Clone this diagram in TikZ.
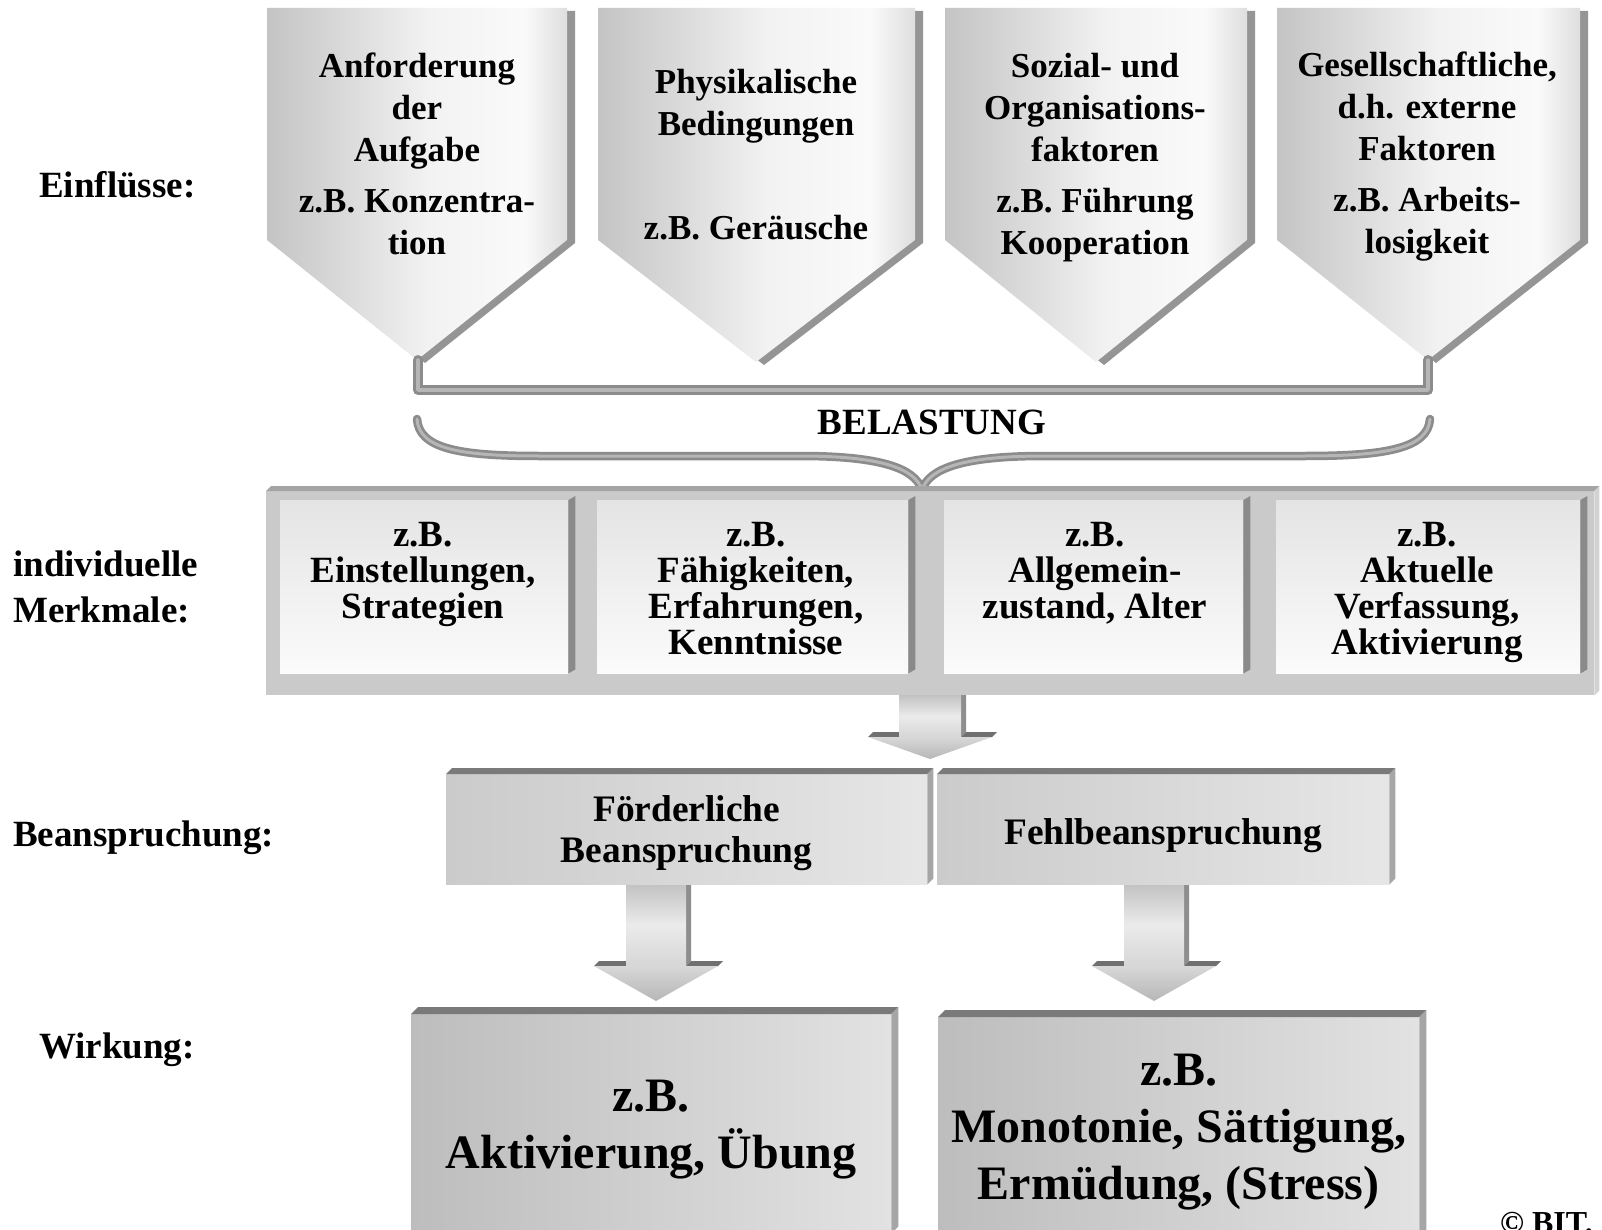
\documentclass[tikz,border=0pt]{standalone}
\usepackage{fontspec}
\setmainfont{Liberation Serif}
\definecolor{pA}{HTML}{C4C4C4}
\definecolor{pB}{HTML}{F2F2F2}
\definecolor{pC}{HTML}{FAFAFA}
\definecolor{pD}{HTML}{DEDEDE}
\definecolor{pside}{HTML}{959595}
\definecolor{panel}{HTML}{CACACA}
\definecolor{paneltop}{HTML}{A4A4A4}
\definecolor{panelside}{HTML}{D2D2D2}
\definecolor{ishadow}{HTML}{8A8A8A}
\definecolor{itop}{HTML}{E4E4E4}
\definecolor{ibot}{HTML}{FBFBFB}
\definecolor{btop}{HTML}{7A7A7A}
\definecolor{bside}{HTML}{A6A6A6}
\definecolor{tube}{HTML}{8C8C8C}
\definecolor{tubehl}{HTML}{B6B6B6}
\definecolor{awing}{HTML}{707070}
\definecolor{aside}{HTML}{8E8E8E}
\definecolor{shA}{HTML}{C2C2C2}
\definecolor{shB}{HTML}{EBEBEB}
\definecolor{shC}{HTML}{D6D6D6}
\definecolor{hdA}{HTML}{D8D8D8}
\definecolor{hdB}{HTML}{B6B6B6}
\definecolor{fL}{HTML}{CBCBCB}
\definecolor{fR}{HTML}{E6E6E6}
\definecolor{wL}{HTML}{BDBDBD}
\definecolor{wR}{HTML}{E2E2E2}
\pgfdeclarehorizontalshading{pentshade}{100bp}{color(0bp)=(pA); color(25bp)=(pA); color(52bp)=(pB); color(68bp)=(pC); color(75bp)=(pD); color(100bp)=(pD)}

\newcommand\drawpent[4]{%
  \fill[pside,shift={(8,3)}] (#1,8) -- (#2,8) -- (#2,240) -- (#3,#4) -- (#1,240) -- cycle;
  \shade[shading=pentshade] (#1,8) -- (#2,8) -- (#2,240) -- (#3,#4) -- (#1,240) -- cycle;}

\newcommand\boxfaces[4]{%
  \fill[#3] (#1.north west) -- ++(#2,-#2) -- ([shift={(#2,-#2)}]#1.north east) -- (#1.north east) -- cycle;
  \fill[#4] (#1.north east) -- ++(#2,-#2) -- ([shift={(#2,-#2)}]#1.south east) -- (#1.south east) -- cycle;}

\newcommand\blockarrow[7]{%
  \fill[aside] ({#1+#5},#2) -- ({#1+#5+#7},#2) -- ({#1+#5+#7},{#3-#7}) -- ({#1+#5},#3) -- cycle;
  \fill[awing] ({#1-#6},#3) -- ({#1-#6+#7},{#3-#7}) -- ({#1-#5},{#3-#7}) -- ({#1-#5},#3) -- cycle;
  \fill[awing] ({#1+#5},#3) -- ({#1+#5+#7},{#3-#7}) -- ({#1+#6+#7},{#3-#7}) -- ({#1+#6},#3) -- cycle;
  \shade[top color=shA, bottom color=shC, middle color=shB] ({#1-#5},#2) rectangle ({#1+#5},#3);
  \shade[top color=hdA, bottom color=hdB] ({#1-#6},#3) -- ({#1+#6},#3) -- (#1,#4) -- cycle;}

\begin{document}
\begin{tikzpicture}[x=1pt,y=-1pt,
  lbl/.style={inner sep=0pt, anchor=west, align=left, font=\fontsize{37}{46}\selectfont\bfseries},
  ptxt/.style={inner sep=0pt, align=center, font=\fontsize{35}{42}\selectfont\bfseries},
  mtxt/.style={inner sep=0pt, align=center, anchor=north, font=\fontsize{37}{36}\selectfont\bfseries},
  ibox/.style={inner sep=0pt, anchor=north west, shade, top color=itop, bottom color=ibot},
  panelbox/.style={inner sep=0pt, anchor=north west, fill=panel},
  fbox/.style={inner sep=0pt, anchor=north west, shade, left color=fL, right color=fR},
  ftxt/.style={inner sep=0pt, align=center, font=\fontsize{37.4}{41}\selectfont\bfseries},
  wbox/.style={inner sep=0pt, anchor=north west, shade, left color=wL, right color=wR},
  wtxt/.style={inner sep=0pt, align=center, font=\fontsize{48}{57}\selectfont\bfseries},
  tubeline/.style={line width=10pt, draw=tube, line join=round, line cap=round},
  tubehigh/.style={line width=3.5pt, draw=tubehl, line join=round, line cap=round},
  bracestyle/.style={line width=8.5pt, draw=tube, line cap=round},
  bracehigh/.style={line width=3pt, draw=tubehl, line cap=round}]
\useasboundingbox (0,0) rectangle (1602,1230);
\fill[white] (0,0) rectangle (1602,1230);

% pentagons (influences)
\drawpent{267}{567}{417}{360}
\drawpent{598}{915}{756}{362}
\drawpent{945}{1247}{1096}{362}
\drawpent{1277}{1580}{1428}{360}
\coordinate (t1) at (418,360);
\coordinate (t4) at (1428,360);

% bracket joining the influences
\draw[tubeline] (t1) -- ++(0,30) -| (t4);
\draw[tubehigh] (t1) -- ++(0,30) -| (t4);

% brace
\coordinate (bl) at (417,419);
\coordinate (br) at (1430,419);
\coordinate (bt) at (922,490);
\draw[bracestyle] (bl) .. controls (419,449) and (460,456) .. (540,456) -- (800,456) .. controls (880,456) and (915,468) .. (bt) .. controls (929,468) and (964,456) .. (1044,456) -- (1304,456) .. controls (1384,456) and (1428,449) .. (br);
\draw[bracehigh] (bl) .. controls (419,449) and (460,456) .. (540,456) -- (800,456) .. controls (880,456) and (915,468) .. (bt) .. controls (929,468) and (964,456) .. (1044,456) -- (1304,456) .. controls (1384,456) and (1428,449) .. (br);

% panel of individual features
\node[panelbox, minimum width=1328pt, minimum height=204pt] (M) at (266,491) {};
\boxfaces{M}{5}{paneltop}{panelside}
\node[ibox, minimum width=288pt, minimum height=173pt] (B1) at (280,500) {};
\node[ibox, minimum width=311pt, minimum height=173pt] (B2) at (597,500) {};
\node[ibox, minimum width=299pt, minimum height=173pt] (B3) at (944,500) {};
\node[ibox, minimum width=304pt, minimum height=173pt] (B4) at (1276,500) {};
\foreach \b in {B1,B2,B3,B4}{
  \fill[ishadow] (\b.north east) -- ++(7,-4) -- ([shift={(7,-4)}]\b.south east) -- (\b.south east) -- cycle;}

\node[mtxt] (m1) at (423,522) {z.B.\\Einstellungen,\\Strategien};
\node[mtxt] (m2) at (756,522) {z.B.\\Fähigkeiten,\\Erfahrungen,\\Kenntnisse};
\node[mtxt] (m3) at (1095,522) {z.B.\\Allgemein-\\zustand, Alter};
\node[mtxt] (m4) at (1427,522) {z.B.\\Aktuelle\\Verfassung,\\Aktivierung};

% pentagon texts
\node[ptxt] (p1) at (417,154) {Anforderung\\der\\Aufgabe\\[9pt]z.B. Konzentra-\\tion};
\node[ptxt] (p2) at (756,155) {Physikalische\\Bedingungen\\[62pt]z.B. Geräusche};
\node[ptxt] (p3) at (1095,158) {Sozial- und\\Organisations-\\faktoren\\[9pt]z.B. Führung\\Kooperation};
\node[ptxt] (p4) at (1427,157) {Gesellschaftliche,\\d.h. externe\\Faktoren\\[9pt]z.B. Arbeits-\\losigkeit};

\node[inner sep=0pt, font=\fontsize{37}{42}\selectfont\bfseries] (bel) at (932,422) {BELASTUNG};

% arrows
\blockarrow{930}{695}{737}{759}{31}{62}{5}
\blockarrow{656}{884}{966}{1001}{30}{62}{5}
\blockarrow{1154}{884}{966}{1001}{30}{62}{5}

% strain boxes
\node[fbox, minimum width=481pt, minimum height=110pt] (F1) at (446,774) {};
\boxfaces{F1}{6}{btop}{bside}
\node[fbox, minimum width=452pt, minimum height=110pt] (F2) at (937,774) {};
\boxfaces{F2}{6}{btop}{bside}
\node[ftxt] (f1t) at ([yshift=-4pt]F1.center) {Förderliche\\Beanspruchung};
\node[ftxt] (f2t) at ([yshift=-6pt]F2.center) {Fehlbeanspruchung};

% effect boxes
\node[wbox, minimum width=480pt, minimum height=219pt] (W1) at (411,1014) {};
\boxfaces{W1}{7}{btop}{bside}
\node[wbox, minimum width=481pt, minimum height=220pt] (W2) at (938,1017) {};
\boxfaces{W2}{7}{btop}{bside}
\node[wtxt] (w1t) at ([yshift=-6pt]W1.center) {z.B.\\Aktivierung, Übung};
\node[wtxt] (w2t) at ([yshift=-5pt]W2.center) {z.B.\\Monotonie, Sättigung,\\Ermüdung, (Stress)};

% row labels
\node[lbl] (l1) at (39,185) {Einflüsse:};
\node[lbl] (l2) at (13,587) {individuelle\\Merkmale:};
\node[lbl] (l3) at (13,838) {Beanspruchung:};
\node[lbl] (l4) at (39,1050) {Wirkung:};

\node[inner sep=0pt, anchor=north west, font=\fontsize{32}{36}\selectfont\bfseries] (cp) at (1500,1212) {© BIT.};
\end{tikzpicture}
\end{document}
